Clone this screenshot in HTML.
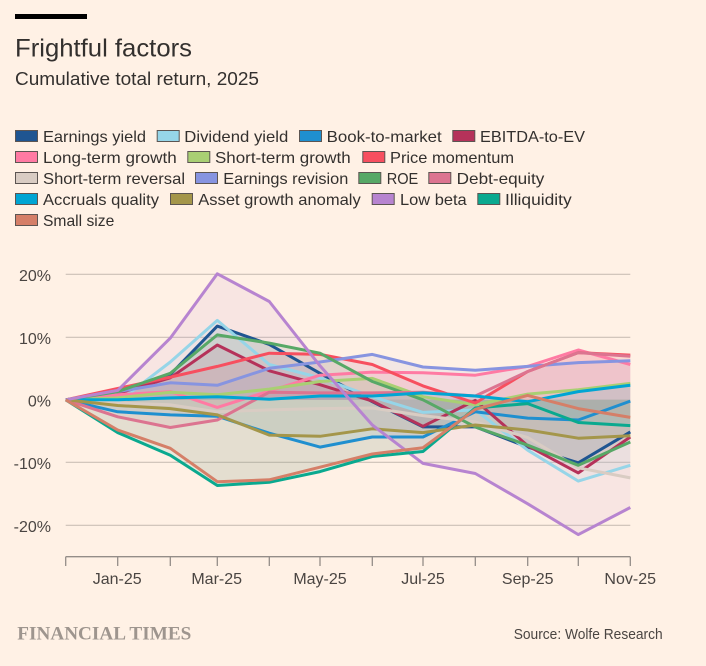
<!DOCTYPE html>
<html>
<head>
<meta charset="utf-8">
<style>
html,body{margin:0;padding:0;background:#fff1e5;}
svg{display:block;}
text{font-family:"Liberation Sans",sans-serif;}
</style>
</head>
<body>
<svg width="706" height="666" viewBox="0 0 706 666" xmlns="http://www.w3.org/2000/svg">
<rect x="0" y="0" width="706" height="666" fill="#fff1e5"/>
<rect x="15" y="14" width="72" height="5" fill="#000"/>
<text x="15" y="56.5" font-size="25" fill="#33302e" textLength="177" lengthAdjust="spacingAndGlyphs">Frightful factors</text>
<text x="15" y="85" font-size="18" fill="#33302e" textLength="244" lengthAdjust="spacingAndGlyphs">Cumulative total return, 2025</text>

<!-- Legend -->
<g font-size="16" fill="#33302e" stroke="none">
<g stroke="#5c5552" stroke-width="1">
<rect x="15.5" y="130.5" width="22" height="11" fill="#1f5591"/>
<rect x="157.2" y="130.5" width="22" height="11" fill="#96d5e8"/>
<rect x="299.5" y="130.5" width="22" height="11" fill="#1f8fcf"/>
<rect x="452.8" y="130.5" width="22" height="11" fill="#b5325a"/>
<rect x="15.5" y="151.5" width="22" height="11" fill="#ff7aa3"/>
<rect x="187.8" y="151.5" width="22" height="11" fill="#a9cf73"/>
<rect x="362.8" y="151.5" width="22" height="11" fill="#f74f5f"/>
<rect x="15.5" y="172.5" width="22" height="11" fill="#d9ccc3"/>
<rect x="195.5" y="172.5" width="22" height="11" fill="#8794e0"/>
<rect x="358.8" y="172.5" width="22" height="11" fill="#57a866"/>
<rect x="428.8" y="172.5" width="22" height="11" fill="#dc7490"/>
<rect x="15.5" y="193.5" width="22" height="11" fill="#00a5d3"/>
<rect x="170.5" y="193.5" width="22" height="11" fill="#a4964a"/>
<rect x="372.2" y="193.5" width="22" height="11" fill="#b784d0"/>
<rect x="477.8" y="193.5" width="22" height="11" fill="#0aa98f"/>
<rect x="15.5" y="214.5" width="22" height="11" fill="#d57f68"/>
</g>
<text x="43" y="142" textLength="103" lengthAdjust="spacingAndGlyphs">Earnings yield</text>
<text x="184.3" y="142" textLength="104" lengthAdjust="spacingAndGlyphs">Dividend yield</text>
<text x="326.7" y="142" textLength="115" lengthAdjust="spacingAndGlyphs">Book-to-market</text>
<text x="480" y="142" textLength="105" lengthAdjust="spacingAndGlyphs">EBITDA-to-EV</text>
<text x="43" y="163" textLength="133.7" lengthAdjust="spacingAndGlyphs">Long-term growth</text>
<text x="215" y="163" textLength="135.7" lengthAdjust="spacingAndGlyphs">Short-term growth</text>
<text x="390" y="163" textLength="124" lengthAdjust="spacingAndGlyphs">Price momentum</text>
<text x="43" y="184" textLength="142" lengthAdjust="spacingAndGlyphs">Short-term reversal</text>
<text x="223.3" y="184" textLength="125" lengthAdjust="spacingAndGlyphs">Earnings revision</text>
<text x="386.7" y="184" textLength="31.6" lengthAdjust="spacingAndGlyphs">ROE</text>
<text x="456.7" y="184" textLength="87.6" lengthAdjust="spacingAndGlyphs">Debt-equity</text>
<text x="43" y="205" textLength="116" lengthAdjust="spacingAndGlyphs">Accruals quality</text>
<text x="198.3" y="205" textLength="162.4" lengthAdjust="spacingAndGlyphs">Asset growth anomaly</text>
<text x="400" y="205" textLength="66.7" lengthAdjust="spacingAndGlyphs">Low beta</text>
<text x="505" y="205" textLength="66.7" lengthAdjust="spacingAndGlyphs">Illiquidity</text>
<text x="43" y="226" textLength="71.3" lengthAdjust="spacingAndGlyphs">Small size</text>
</g>

<!-- Gridlines -->
<g stroke="#cbc0b6" stroke-width="1.2">
<line x1="65.7" y1="274.3" x2="630.3" y2="274.3"/>
<line x1="65.7" y1="337.3" x2="630.3" y2="337.3"/>
<line x1="65.7" y1="462.3" x2="630.3" y2="462.3"/>
<line x1="65.7" y1="525.3" x2="630.3" y2="525.3"/>
</g>

<!-- Y labels -->
<g font-size="16" fill="#4a4542" text-anchor="end">
<text x="51" y="281">20%</text>
<text x="51" y="344">10%</text>
<text x="51" y="406.5">0%</text>
<text x="51" y="469">-10%</text>
<text x="51" y="532">-20%</text>
</g>

<!-- Fills -->
<g fill-opacity="0.1" stroke="none">
<polygon fill="#1f5591" points="65.7,399.8 117.7,393.5 170.3,374.6 217.3,326.1 269.3,344.4 320,373.3 372.3,401.7 423,426.9 475.3,426.9 527.7,447.1 578.3,462.8 630.3,431.9 630.3,399.8"/>
<polygon fill="#96d5e8" points="65.7,399.8 117.7,402.3 170.3,362.0 217.3,320.4 269.3,364.5 320,377.8 372.3,396.7 423,412.4 475.3,409.9 527.7,450.2 578.3,481.1 630.3,465.3 630.3,399.8"/>
<polygon fill="#1f8fcf" points="65.7,399.8 117.7,411.8 170.3,414.9 217.3,416.2 269.3,433.2 320,447.1 372.3,437.0 423,437.0 475.3,411.8 527.7,418.1 578.3,420.0 630.3,401.1 630.3,399.8"/>
<polygon fill="#b5325a" points="65.7,399.8 117.7,393.5 170.3,377.8 217.3,345.0 269.3,370.8 320,384.7 372.3,401.1 423,426.3 475.3,400.4 527.7,445.8 578.3,472.9 630.3,437.0 630.3,399.8"/>
<polygon fill="#ff7aa3" points="65.7,399.8 117.7,394.8 170.3,391.6 217.3,407.4 269.3,391.0 320,375.2 372.3,372.1 423,372.7 475.3,375.2 527.7,366.4 578.3,350.0 630.3,364.5 630.3,399.8"/>
<polygon fill="#a9cf73" points="65.7,399.8 117.7,397.9 170.3,392.2 217.3,394.8 269.3,389.1 320,381.5 372.3,378.4 423,396.7 475.3,404.8 527.7,394.1 578.3,389.7 630.3,383.4 630.3,399.8"/>
<polygon fill="#f74f5f" points="65.7,399.8 117.7,388.5 170.3,377.1 217.3,366.4 269.3,353.2 320,354.4 372.3,364.5 423,385.9 475.3,403.0 527.7,371.5 578.3,352.6 630.3,355.1 630.3,399.8"/>
<polygon fill="#d9ccc3" points="65.7,399.8 117.7,403.0 170.3,404.8 217.3,411.8 269.3,409.9 320,408.6 372.3,408.0 423,415.6 475.3,421.9 527.7,437.6 578.3,467.8 630.3,477.9 630.3,399.8"/>
<polygon fill="#8794e0" points="65.7,399.8 117.7,391.6 170.3,382.8 217.3,385.3 269.3,368.3 320,362.0 372.3,354.4 423,367.0 475.3,370.2 527.7,366.4 578.3,362.6 630.3,360.7 630.3,399.8"/>
<polygon fill="#57a866" points="65.7,399.8 117.7,391.6 170.3,373.3 217.3,334.9 269.3,343.1 320,353.2 372.3,381.5 423,399.8 475.3,426.9 527.7,445.2 578.3,465.3 630.3,442.0 630.3,399.8"/>
<polygon fill="#dc7490" points="65.7,399.8 117.7,416.8 170.3,427.5 217.3,420.0 269.3,392.2 320,392.9 372.3,392.9 423,392.2 475.3,396.0 527.7,371.5 578.3,352.6 630.3,356.3 630.3,399.8"/>
<polygon fill="#00a5d3" points="65.7,399.8 117.7,399.8 170.3,397.9 217.3,396.7 269.3,399.2 320,396.0 372.3,396.0 423,392.9 475.3,396.0 527.7,401.7 578.3,391.6 630.3,385.3 630.3,399.8"/>
<polygon fill="#a4964a" points="65.7,399.8 117.7,405.5 170.3,408.6 217.3,414.9 269.3,435.1 320,436.3 372.3,428.8 423,432.6 475.3,425.0 527.7,430.0 578.3,438.2 630.3,435.7 630.3,399.8"/>
<polygon fill="#b784d0" points="65.7,399.8 117.7,390.4 170.3,338.1 217.3,273.8 269.3,301.5 320,365.8 372.3,425.0 423,463.4 475.3,473.5 527.7,503.8 578.3,534.6 630.3,507.5 630.3,399.8"/>
<polygon fill="#0aa98f" points="65.7,399.8 117.7,432.6 170.3,455.2 217.3,485.5 269.3,482.3 320,471.6 372.3,456.5 423,451.5 475.3,408.0 527.7,403.6 578.3,422.5 630.3,425.6 630.3,399.8"/>
<polygon fill="#d57f68" points="65.7,399.8 117.7,430.0 170.3,448.3 217.3,481.7 269.3,479.8 320,467.2 372.3,454.0 423,447.7 475.3,409.3 527.7,395.4 578.3,408.6 630.3,417.4 630.3,399.8"/>
</g>

<!-- Lines -->
<g fill="none" stroke-width="3" stroke-linejoin="round" stroke-linecap="butt">
<polyline stroke="#1f5591" points="65.7,399.8 117.7,393.5 170.3,374.6 217.3,326.1 269.3,344.4 320,373.3 372.3,401.7 423,426.9 475.3,426.9 527.7,447.1 578.3,462.8 630.3,431.9"/>
<polyline stroke="#96d5e8" points="65.7,399.8 117.7,402.3 170.3,362.0 217.3,320.4 269.3,364.5 320,377.8 372.3,396.7 423,412.4 475.3,409.9 527.7,450.2 578.3,481.1 630.3,465.3"/>
<polyline stroke="#1f8fcf" points="65.7,399.8 117.7,411.8 170.3,414.9 217.3,416.2 269.3,433.2 320,447.1 372.3,437.0 423,437.0 475.3,411.8 527.7,418.1 578.3,420.0 630.3,401.1"/>
<polyline stroke="#b5325a" points="65.7,399.8 117.7,393.5 170.3,377.8 217.3,345.0 269.3,370.8 320,384.7 372.3,401.1 423,426.3 475.3,400.4 527.7,445.8 578.3,472.9 630.3,437.0"/>
<polyline stroke="#ff7aa3" points="65.7,399.8 117.7,394.8 170.3,391.6 217.3,407.4 269.3,391.0 320,375.2 372.3,372.1 423,372.7 475.3,375.2 527.7,366.4 578.3,350.0 630.3,364.5"/>
<polyline stroke="#a9cf73" points="65.7,399.8 117.7,397.9 170.3,392.2 217.3,394.8 269.3,389.1 320,381.5 372.3,378.4 423,396.7 475.3,404.8 527.7,394.1 578.3,389.7 630.3,383.4"/>
<polyline stroke="#f74f5f" points="65.7,399.8 117.7,388.5 170.3,377.1 217.3,366.4 269.3,353.2 320,354.4 372.3,364.5 423,385.9 475.3,403.0 527.7,371.5 578.3,352.6 630.3,355.1"/>
<polyline stroke="#d9ccc3" points="65.7,399.8 117.7,403.0 170.3,404.8 217.3,411.8 269.3,409.9 320,408.6 372.3,408.0 423,415.6 475.3,421.9 527.7,437.6 578.3,467.8 630.3,477.9"/>
<polyline stroke="#8794e0" points="65.7,399.8 117.7,391.6 170.3,382.8 217.3,385.3 269.3,368.3 320,362.0 372.3,354.4 423,367.0 475.3,370.2 527.7,366.4 578.3,362.6 630.3,360.7"/>
<polyline stroke="#57a866" points="65.7,399.8 117.7,391.6 170.3,373.3 217.3,334.9 269.3,343.1 320,353.2 372.3,381.5 423,399.8 475.3,426.9 527.7,445.2 578.3,465.3 630.3,442.0"/>
<polyline stroke="#dc7490" points="65.7,399.8 117.7,416.8 170.3,427.5 217.3,420.0 269.3,392.2 320,392.9 372.3,392.9 423,392.2 475.3,396.0 527.7,371.5 578.3,352.6 630.3,356.3"/>
<polyline stroke="#00a5d3" points="65.7,399.8 117.7,399.8 170.3,397.9 217.3,396.7 269.3,399.2 320,396.0 372.3,396.0 423,392.9 475.3,396.0 527.7,401.7 578.3,391.6 630.3,385.3"/>
<polyline stroke="#a4964a" points="65.7,399.8 117.7,405.5 170.3,408.6 217.3,414.9 269.3,435.1 320,436.3 372.3,428.8 423,432.6 475.3,425.0 527.7,430.0 578.3,438.2 630.3,435.7"/>
<polyline stroke="#b784d0" points="65.7,399.8 117.7,390.4 170.3,338.1 217.3,273.8 269.3,301.5 320,365.8 372.3,425.0 423,463.4 475.3,473.5 527.7,503.8 578.3,534.6 630.3,507.5"/>
<polyline stroke="#0aa98f" points="65.7,399.8 117.7,432.6 170.3,455.2 217.3,485.5 269.3,482.3 320,471.6 372.3,456.5 423,451.5 475.3,408.0 527.7,403.6 578.3,422.5 630.3,425.6"/>
<polyline stroke="#d57f68" points="65.7,399.8 117.7,430.0 170.3,448.3 217.3,481.7 269.3,479.8 320,467.2 372.3,454.0 423,447.7 475.3,409.3 527.7,395.4 578.3,408.6 630.3,417.4"/>
</g>

<!-- X axis -->
<g stroke="#948d88" stroke-width="1.3">
<line x1="65.7" y1="556.7" x2="630.3" y2="556.7"/>
<line x1="65.7" y1="556.7" x2="65.7" y2="566"/>
<line x1="117.7" y1="556.7" x2="117.7" y2="566"/>
<line x1="170.3" y1="556.7" x2="170.3" y2="566"/>
<line x1="217.3" y1="556.7" x2="217.3" y2="566"/>
<line x1="269.3" y1="556.7" x2="269.3" y2="566"/>
<line x1="320" y1="556.7" x2="320" y2="566"/>
<line x1="372.3" y1="556.7" x2="372.3" y2="566"/>
<line x1="423" y1="556.7" x2="423" y2="566"/>
<line x1="475.3" y1="556.7" x2="475.3" y2="566"/>
<line x1="527.7" y1="556.7" x2="527.7" y2="566"/>
<line x1="578.3" y1="556.7" x2="578.3" y2="566"/>
<line x1="630.3" y1="556.7" x2="630.3" y2="566"/>
</g>
<g font-size="16" fill="#4a4542" text-anchor="middle">
<text x="117.2" y="584">Jan-25</text>
<text x="216.7" y="584">Mar-25</text>
<text x="320" y="584">May-25</text>
<text x="423" y="584">Jul-25</text>
<text x="527.7" y="584">Sep-25</text>
<text x="630.2" y="584">Nov-25</text>
</g>

<!-- Footer -->
<text x="17.3" y="639.3" font-family="Liberation Serif, serif" font-weight="bold" font-size="19" fill="#9e958e" textLength="174" lengthAdjust="spacingAndGlyphs" style="font-family:'Liberation Serif',serif">FINANCIAL TIMES</text>
<text x="513.7" y="639" font-size="15" fill="#4a4542" textLength="149" lengthAdjust="spacingAndGlyphs">Source: Wolfe Research</text>
</svg>
</body>
</html>
